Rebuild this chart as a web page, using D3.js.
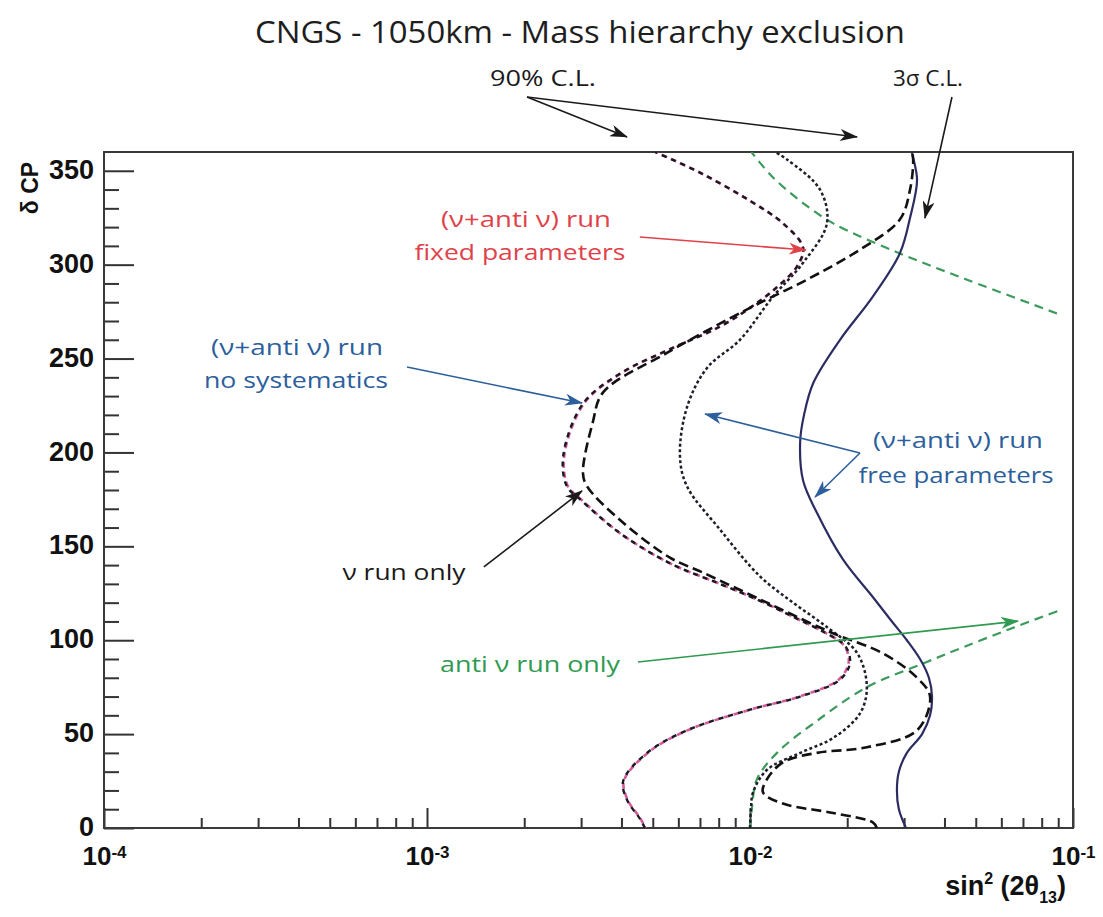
<!DOCTYPE html>
<html>
<head>
<meta charset="utf-8">
<script src="https://cdn.jsdelivr.net/npm/d3@7"></script>
<style>
  body { margin: 0; background: #ffffff; }
  svg { display: block; }
</style>
</head>
<body>
<svg id="chart" width="1103" height="917"></svg>
<script>
// ---- Exclusion contours: delta_CP (deg) vs sin^2(2 theta13) ----

// (nu + anti-nu) run, free parameters, 3 sigma (solid)
const free3sDelta = [0, 10, 20, 30, 40, 50, 60, 70, 80, 90, 100, 110, 123, 143, 168, 185, 206, 220, 237, 260, 283, 306, 325, 345, 357, 360];
const free3sSin2  = [0.0304, 0.0289, 0.0285, 0.0289, 0.0306, 0.0341, 0.0361, 0.0366, 0.0358, 0.0336, 0.0306, 0.0275, 0.0240, 0.0194, 0.0161, 0.0146, 0.0143, 0.0147, 0.0157, 0.0190, 0.0240, 0.0291, 0.0313, 0.0329, 0.0320, 0.0317];

// (nu + anti-nu) run, free parameters, 90% C.L. (dotted)
const free90Delta = [0, 10, 19, 31, 40, 48, 61, 75, 93, 107, 120, 134, 159, 182, 198, 224, 245, 260, 283, 301, 322, 340, 356, 360];
const free90Sin2  = [0.0100, 0.01007, 0.01022, 0.01129, 0.0143, 0.0181, 0.0219, 0.0230, 0.0215, 0.0173, 0.0136, 0.01074, 0.00807, 0.00638, 0.00607, 0.00638, 0.00736, 0.00931, 0.01178, 0.0146, 0.0173, 0.01647, 0.01302, 0.01195];

// (nu + anti-nu) run, no systematics, 90% C.L.
const noSystDelta = [0, 5, 15, 25, 40, 52, 63, 70, 79, 88, 97, 104, 112, 121, 130, 141, 157, 175, 182, 198, 226, 242, 255, 267, 277, 288, 299, 309, 322, 334, 349, 360];
const noSystSin2  = [0.00473, 0.00456, 0.00416, 0.00405, 0.0048, 0.00638, 0.0100, 0.0143, 0.0190, 0.0204, 0.0197, 0.0171, 0.01378, 0.01074, 0.00807, 0.00565, 0.00396, 0.00298, 0.00271, 0.00264, 0.00304, 0.00396, 0.00565, 0.00807, 0.0100, 0.01212, 0.01398, 0.0146, 0.01265, 0.0100, 0.0070, 0.00508];

// (nu + anti-nu) run, fixed parameters, 90% C.L. (pink)
const fixedDelta = [0, 5, 15, 25, 40, 52, 63, 70, 79, 88, 97, 104, 112, 121, 130, 141, 157, 175, 182, 198, 226, 242, 255, 267, 277, 288, 299, 309, 322, 334, 349, 360];
const fixedSin2  = [0.00475, 0.00458, 0.00418, 0.00407, 0.00482, 0.0064, 0.0100, 0.0142, 0.0188, 0.0202, 0.0196, 0.0171, 0.01378, 0.01074, 0.00807, 0.00565, 0.00396, 0.00300, 0.00273, 0.00266, 0.00306, 0.00398, 0.00565, 0.00807, 0.0100, 0.01212, 0.01398, 0.0146, 0.01265, 0.0100, 0.0070, 0.00510];

// nu run only (long dashes)
const nuOnlyDelta = [0, 3, 8, 13, 19, 26, 35, 40, 43, 52, 70, 80, 93, 104, 120, 136, 144, 164, 182, 189, 216, 232, 253, 277, 292, 308, 324, 340, 356, 360];
const nuOnlySin2  = [0.0247, 0.0240, 0.0181, 0.01265, 0.01097, 0.01129, 0.01265, 0.0161, 0.0230, 0.0329, 0.0361, 0.0329, 0.0258, 0.0179, 0.01129, 0.00715, 0.00565, 0.00396, 0.00313, 0.00304, 0.00326, 0.00351, 0.00553, 0.0100, 0.0150, 0.0219, 0.0291, 0.0313, 0.0320, 0.0317];

// anti-nu run only, two branches (green)
const antiLowDelta = [0, 11, 26, 40, 57, 75, 88, 96, 106, 116];
const antiLowSin2  = [0.0100, 0.01014, 0.01051, 0.01212, 0.0161, 0.0230, 0.0348, 0.0453, 0.0638, 0.0912];
const antiHighDelta = [274, 292, 306, 322, 334, 347, 360];
const antiHighSin2  = [0.0892, 0.0470, 0.0291, 0.0181, 0.0143, 0.0117, 0.0101];

// Axis ticks
const xDecadeExponents = [-4, -3, -2, -1];
const yMajorTicks = [0, 50, 100, 150, 200, 250, 300, 350];

// ---- Layout ----
const svg = d3.select("#chart");
const plot = { left: 104, right: 1073, top: 152, bottom: 828 };

const x = d3.scaleLog().domain([1e-4, 1e-1]).range([plot.left, plot.right]);
const y = d3.scaleLinear().domain([0, 360]).range([plot.bottom, plot.top]);

const tickFont = "'Liberation Sans', Arial, Helvetica, sans-serif";
const textFont = "'Open Sans', 'Noto Sans', sans-serif";

svg.append("rect").attr("width", 1103).attr("height", 917).attr("fill", "#ffffff");

// Title
svg.append("text")
  .attr("x", 580).attr("y", 43)
  .attr("text-anchor", "middle")
  .attr("font-family", textFont)
  .attr("font-size", 31)
  .attr("fill", "#1e1e1e")
  .attr("textLength", 650)
  .attr("lengthAdjust", "spacingAndGlyphs")
  .text("CNGS - 1050km - Mass hierarchy exclusion");

// ---- Axes ----
const yMinorTicks = d3.range(10, 360, 10).filter(v => v % 50 !== 0);
const xMajorTicks = xDecadeExponents.map(e => Math.pow(10, e));
const xMinorTicks = [];
xDecadeExponents.slice(0, -1).forEach(e => {
  for (let m = 2; m <= 9; m++) xMinorTicks.push(m * Math.pow(10, e));
});

// y minor ticks
svg.append("g")
  .attr("transform", `translate(${plot.left},0)`)
  .call(d3.axisLeft(y).tickValues(yMinorTicks).tickSize(-15).tickFormat(""))
  .call(g => g.select(".domain").remove())
  .call(g => g.selectAll("line").attr("stroke", "#333").attr("stroke-width", 2));

// y major ticks + labels
svg.append("g")
  .attr("transform", `translate(${plot.left},0)`)
  .call(d3.axisLeft(y).tickValues(yMajorTicks).tickSize(-30).tickPadding(10))
  .call(g => g.select(".domain").remove())
  .call(g => g.selectAll("line").attr("stroke", "#333").attr("stroke-width", 2))
  .call(g => g.selectAll("text")
    .attr("dy", "0.28em")
    .attr("font-family", tickFont).attr("font-weight", "bold")
    .attr("font-size", 27).attr("fill", "#111"));

// x minor ticks
svg.append("g")
  .attr("transform", `translate(0,${plot.bottom})`)
  .call(d3.axisBottom(x).tickValues(xMinorTicks).tickSize(-10).tickFormat(""))
  .call(g => g.select(".domain").remove())
  .call(g => g.selectAll("line").attr("stroke", "#333").attr("stroke-width", 2));

// x major ticks + 10^n labels
svg.append("g")
  .attr("transform", `translate(0,${plot.bottom})`)
  .call(d3.axisBottom(x).tickValues(xMajorTicks).tickSize(-20).tickPadding(19).tickFormat(""))
  .call(g => g.select(".domain").remove())
  .call(g => g.selectAll("line").attr("stroke", "#333").attr("stroke-width", 2))
  .call(g => g.selectAll("text").each(function (d) {
    const t = d3.select(this)
      .attr("font-family", tickFont).attr("font-weight", "bold")
      .attr("font-size", 26).attr("fill", "#111");
    t.append("tspan").text("10");
    t.append("tspan").attr("dy", "-0.45em").attr("font-size", 17)
      .text(String(Math.round(Math.log10(d))));
  }));

// Frame
svg.append("rect")
  .attr("x", plot.left).attr("y", plot.top)
  .attr("width", plot.right - plot.left).attr("height", plot.bottom - plot.top)
  .attr("fill", "none").attr("stroke", "#3a3a3a").attr("stroke-width", 2);

// Axis titles
svg.append("text")
  .attr("transform", "translate(38,188) rotate(-90)")
  .attr("text-anchor", "middle")
  .attr("font-family", tickFont).attr("font-weight", "bold")
  .attr("font-size", 23).attr("fill", "#111")
  .text("δ CP");

const xTitle = svg.append("text")
  .attr("x", 1066).attr("y", 895)
  .attr("text-anchor", "end")
  .attr("font-family", tickFont).attr("font-weight", "bold")
  .attr("font-size", 27).attr("fill", "#111");
xTitle.append("tspan").text("sin");
xTitle.append("tspan").attr("dy", -11).attr("font-size", 16).text("2");
xTitle.append("tspan").attr("dy", 11).text(" (2θ");
xTitle.append("tspan").attr("dy", 8).attr("font-size", 16).text("13");
xTitle.append("tspan").attr("dy", -8).text(")");

// ---- Contours ----
svg.append("clipPath").attr("id", "plot-clip")
  .append("rect")
  .attr("x", plot.left).attr("y", plot.top)
  .attr("width", plot.right - plot.left).attr("height", plot.bottom - plot.top);

const curves = svg.append("g").attr("clip-path", "url(#plot-clip)");
const line = d3.line()
  .x(d => x(d[1]))
  .y(d => y(d[0]))
  .curve(d3.curveCatmullRom.alpha(0.5));

function contour(deltas, sin2s, style) {
  curves.append("path")
    .datum(deltas.map((dl, i) => [dl, sin2s[i]]))
    .attr("d", line)
    .attr("fill", "none")
    .attr("stroke", style.color)
    .attr("stroke-width", style.width)
    .attr("stroke-dasharray", style.dash || null)
    .attr("stroke-dashoffset", style.offset || 0)
    .attr("stroke-linejoin", "round");
}

contour(antiHighDelta, antiHighSin2, { color: "#3c9a5c", width: 2.2, dash: "9,6" });
contour(antiLowDelta, antiLowSin2, { color: "#3c9a5c", width: 2.2, dash: "9,6" });
contour(free3sDelta, free3sSin2, { color: "#2b2d62", width: 2.2 });
contour(free90Delta, free90Sin2, { color: "#1e1e2a", width: 2.5, dash: "3,2.5" });
contour(fixedDelta, fixedSin2, { color: "#d45a9c", width: 2.6, dash: "6,4", offset: 5 });
contour(noSystDelta, noSystSin2, { color: "#1a1a22", width: 2.4, dash: "5,5" });
contour(nuOnlyDelta, nuOnlySin2, { color: "#111111", width: 2.6, dash: "10,5" });

// ---- Annotations ----
const defs = svg.append("defs");
function arrowHead(id, color) {
  defs.append("marker")
    .attr("id", id)
    .attr("viewBox", "0 0 18 12")
    .attr("refX", 17).attr("refY", 6)
    .attr("markerWidth", 18).attr("markerHeight", 12)
    .attr("markerUnits", "userSpaceOnUse")
    .attr("orient", "auto")
    .append("path")
    .attr("d", "M0,0 L18,6 L0,12 L5,6 Z")
    .attr("fill", color);
}
const black = "#1a1a1a", red = "#e0424a", blue = "#2d5f9c", green = "#2f9a50";
arrowHead("ah-black", black);
arrowHead("ah-red", red);
arrowHead("ah-blue", blue);
arrowHead("ah-green", green);

// arrows: [from sin2, from delta, to sin2, to delta]
function arrow(a, color, id) {
  svg.append("line")
    .attr("x1", x(a[0])).attr("y1", y(a[1]))
    .attr("x2", x(a[2])).attr("y2", y(a[3]))
    .attr("stroke", color).attr("stroke-width", 1.6)
    .attr("marker-end", `url(#${id})`);
}
arrow([0.00204, 389.3, 0.00416, 368.0], black, "ah-black");
arrow([0.00204, 389.3, 0.02145, 368.0], black, "ah-black");
arrow([0.0422, 389.3, 0.0348, 324.8], black, "ah-black");
arrow([0.00456, 314.7, 0.0149, 307.8], red, "ah-red");
arrow([0.000867, 245.5, 0.00302, 226.3], blue, "ah-blue");
arrow([0.0219, 199.7, 0.00726, 220.5], blue, "ah-blue");
arrow([0.0219, 199.7, 0.0159, 176.3], blue, "ah-blue");
arrow([0.00150, 139.0, 0.00302, 179.5], black, "ah-black");
arrow([0.0045, 88.4, 0.0676, 110.2], green, "ah-green");

function label(txt, px, py, color, width, size) {
  svg.append("text")
    .attr("x", px).attr("y", py)
    .attr("text-anchor", "middle")
    .attr("font-family", textFont)
    .attr("font-size", size || 22)
    .attr("fill", color)
    .attr("textLength", width)
    .attr("lengthAdjust", "spacingAndGlyphs")
    .text(txt);
}
label("90% C.L.", 543, 86, black, 106, 21);
label("3σ C.L.", 928, 86, black, 70, 21);
label("(ν+anti ν) run", 526, 227, red, 170);
label("fixed parameters", 520, 260, red, 211);
label("(ν+anti ν) run", 297, 355, blue, 172);
label("no systematics", 296, 388, blue, 184);
label("(ν+anti ν) run", 958, 448, blue, 170);
label("free parameters", 956, 483, blue, 195);
label("ν run only", 404, 580, black, 123);
label("anti ν run only", 530, 672, green, 180);
</script>
</body>
</html>
